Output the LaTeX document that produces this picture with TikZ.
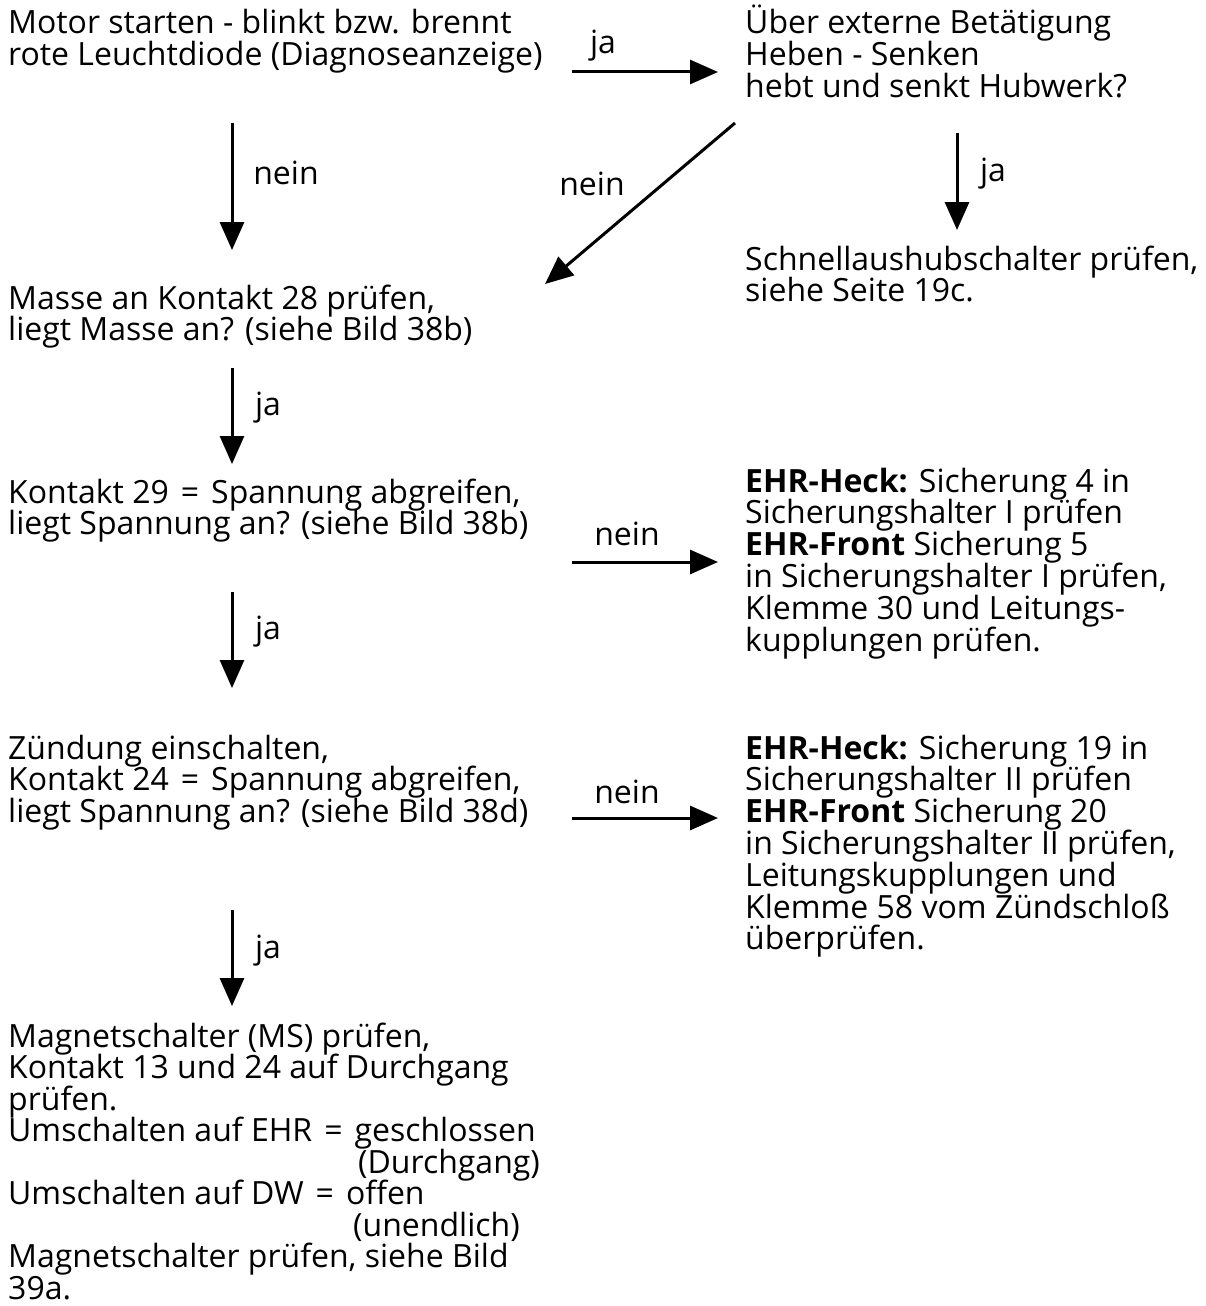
\documentclass[tikz,border=0pt]{standalone}
\usepackage{fontspec}
\setmainfont{Open Sans}
\usetikzlibrary{arrows.meta}
\newcommand{\blk}[1]{\vtop{\baselineskip=31.8pt\lineskiplimit=-100pt\lineskip=0pt\let\\\cr\halign{##\hfil\cr#1\crcr}}}
\newcommand{\blkb}[1]{\vtop{\baselineskip=31.5pt\lineskiplimit=-100pt\lineskip=0pt\let\\\cr\halign{##\hfil\cr#1\crcr}}}
\newcommand{\eqsp}{\hspace{12pt}=\hspace{12pt}}
\tikzset{
  txt/.style={anchor=base west, inner sep=0pt, font=\fontsize{32}{31.8}\selectfont},
  lbl/.style={inner sep=0pt, font=\fontsize{32}{31.8}\selectfont},
  arr/.style={line width=3pt, -{Triangle[length=28pt,width=24pt]}}
}
\begin{document}
\begin{tikzpicture}[x=1pt,y=-1pt]
\useasboundingbox (0,0) rectangle (1206,1306);
% text blocks
\node[txt] (start) at (8,34) {\blk{Motor starten - blinkt bzw. brennt\\rote Leuchtdiode (Diagnoseanzeige)}};
\node[txt] (ext) at (745,34) {\blk{Über externe Betätigung\\Heben - Senken\\hebt und senkt Hubwerk?}};
\node[txt] (schnell) at (745,270) {\blk{Schnellaushubschalter prüfen,\\siehe Seite 19c.}};
\node[txt] (masse) at (8,309) {\blk{Masse an Kontakt 28 prüfen,\\liegt Masse an? (siehe Bild 38b)}};
\node[txt] (k29) at (8,503) {\blk{Kontakt 29\eqsp Spannung abgreifen,\\liegt Spannung an? (siehe Bild 38b)}};
\node[txt] (fuse1) at (745,492) {\blk{\textbf{EHR-Heck:} Sicherung 4 in\\Sicherungshalter I prüfen\\\textbf{EHR-Front} Sicherung 5\\in Sicherungshalter I prüfen,\\Klemme 30 und Leitungs-\\kupplungen prüfen.}};
\node[txt] (zuend) at (8,759) {\blk{Zündung einschalten,\\Kontakt 24\eqsp Spannung abgreifen,\\liegt Spannung an? (siehe Bild 38d)}};
\node[txt] (fuse2) at (745,759) {\blk{\textbf{EHR-Heck:} Sicherung 19 in\\Sicherungshalter II prüfen\\\textbf{EHR-Front} Sicherung 20\\in Sicherungshalter II prüfen,\\Leitungskupplungen und\\Klemme 58 vom Zündschloß\\überprüfen.}};
\node[txt] (magnet) at (8,1047) {\blkb{Magnetschalter (MS) prüfen,\\Kontakt 13 und 24 auf Durchgang\\prüfen.\\Umschalten auf EHR\eqsp geschlossen\\\hspace*{350pt}(Durchgang)\\Umschalten auf DW\eqsp offen\\\hspace*{345pt}(unendlich)\\Magnetschalter prüfen, siehe Bild\\39a.}};
% connector end points
\coordinate (a1s) at (572,72);  \coordinate (a1e) at (718,72);
\coordinate (a2s) at (232,123); \coordinate (a2e) at (232,250);
\coordinate (a3s) at (735,123); \coordinate (a3e) at (545,284);
\coordinate (a4s) at (957,133); \coordinate (a4e) at (957,230);
\coordinate (a5s) at (232,368); \coordinate (a5e) at (232,464);
\coordinate (a6s) at (572,562); \coordinate (a6e) at (718,562);
\coordinate (a7s) at (232,592); \coordinate (a7e) at (232,688);
\coordinate (a8s) at (572,818); \coordinate (a8e) at (718,818);
\coordinate (a9s) at (232,910); \coordinate (a9e) at (232,1006);
% connectors
\draw[arr] (a1s) -- (a1e);
\draw[arr] (a2s) -- (a2e);
\draw[arr] (a3s) -- (a3e);
\draw[arr] (a4s) -- (a4e);
\draw[arr] (a5s) -- (a5e);
\draw[arr] (a6s) -- (a6e);
\draw[arr] (a7s) -- (a7e);
\draw[arr] (a8s) -- (a8e);
\draw[arr] (a9s) -- (a9e);
% labels
\node[lbl] (l1) at (603,46) {ja};
\node[lbl] (l2) at (286,173) {nein};
\node[lbl] (l3) at (592,184) {nein};
\node[lbl] (l4) at (993,174) {ja};
\node[lbl] (l5) at (268,408) {ja};
\node[lbl] (l6) at (627,534) {nein};
\node[lbl] (l7) at (268,632) {ja};
\node[lbl] (l8) at (627,792) {nein};
\node[lbl] (l9) at (268,951) {ja};
\end{tikzpicture}
\end{document}
